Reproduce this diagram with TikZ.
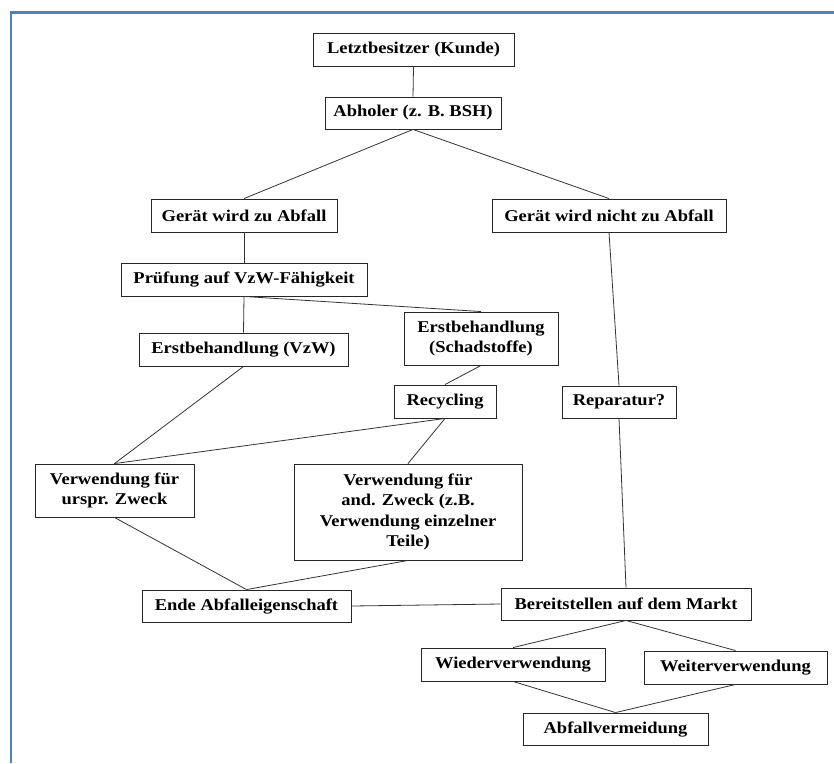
\documentclass[tikz,border=0pt]{standalone}
\usepackage{fontspec}
\setmainfont[FakeStretch=1.12]{Liberation Serif}
\begin{document}
\begin{tikzpicture}[x=1pt,y=-1pt,
  box/.style={draw=black!85,line width=0.9pt,fill=white,inner sep=0pt,align=center,
    font=\fontsize{16.5}{20.5}\selectfont\bfseries},
  link/.style={draw=black!80,line width=0.8pt},
  frameline/.style={draw={rgb,255:red,79;green,129;blue,189},line width=2.2pt}]
\useasboundingbox (0,0) rectangle (834,763);
% page frame
\draw[frameline] (11,763) -- (11,12.5) -- (834,12.5);
% boxes
\node[box,minimum width=201pt,minimum height=33pt] (letzt)   at (413.5,49.5) {Letztbesitzer (Kunde)};
\node[box,minimum width=176pt,minimum height=32pt] (abholer) at (413,113) {Abholer (z. B. BSH)};
\node[box,minimum width=186pt,minimum height=33pt] (abfall)  at (244,215.5) {Gerät wird zu Abfall};
\node[box,minimum width=234pt,minimum height=33pt] (nicht)   at (609,215.5) {Gerät wird nicht zu Abfall};
\node[box,minimum width=246pt,minimum height=33pt] (pruef)   at (244,279.5) {Prüfung auf VzW-Fähigkeit};
\node[box,minimum width=209pt,minimum height=33pt] (ebvzw)   at (243.5,349.5) {Erstbehandlung (VzW)};
\node[box,minimum width=154pt,minimum height=53pt] (ebschad) at (481,338.5) {Erstbehandlung\\(Schadstoffe)};
\node[box,minimum width=102pt,minimum height=33pt] (recyc)   at (445,401.5) {Recycling};
\node[box,minimum width=114pt,minimum height=32pt] (repar)   at (619,402) {Reparatur?};
\node[box,minimum width=159pt,minimum height=53pt] (urspr)   at (114.5,490.5) {Verwendung für\\urspr. Zweck};
\node[box,minimum width=228pt,minimum height=96pt] (andz)    at (408,512) {Verwendung für\\and. Zweck (z.B.\\Verwendung einzelner\\Teile)};
\node[box,minimum width=209pt,minimum height=32pt] (ende)    at (246.5,606) {Ende Abfalleigenschaft};
\node[box,minimum width=250pt,minimum height=32pt] (bereit)  at (626,604) {Bereitstellen auf dem Markt};
\node[box,minimum width=184pt,minimum height=33pt] (wieder)  at (513,664.5) {Wiederverwendung};
\node[box,minimum width=183pt,minimum height=33pt] (weiter)  at (735.5,667.5) {Weiterverwendung};
\node[box,minimum width=185pt,minimum height=32pt] (vermeid) at (615.5,729) {Abfallvermeidung};
% connectors
\draw[link] (letzt.south) -- (abholer.north);
\draw[link] (abholer.south) -- (abfall.north);
\draw[link] (abholer.south) -- (nicht.north);
\draw[link] (abfall.south) -- (pruef.north);
\draw[link] (pruef.south) -- (ebvzw.north);
\draw[link] (pruef.south) -- (ebschad.north);
\draw[link] (ebvzw.south) -- (urspr.north);
\draw[link] (ebschad.south) -- (recyc.north);
\draw[link] (recyc.south) -- (urspr.north);
\draw[link] (recyc.south) -- (andz.north);
\draw[link] (nicht.south) -- (repar.north);
\draw[link] (repar.south) -- (bereit.north);
\draw[link] (urspr.south) -- (ende.north);
\draw[link] (andz.south) -- (ende.north);
\draw[link] (ende.east) -- (bereit.west);
\draw[link] (bereit.south) -- (wieder.north);
\draw[link] (bereit.south) -- (weiter.north);
\draw[link] (wieder.south) -- (vermeid.north);
\draw[link] (weiter.south) -- (vermeid.north);
\end{tikzpicture}
\end{document}
